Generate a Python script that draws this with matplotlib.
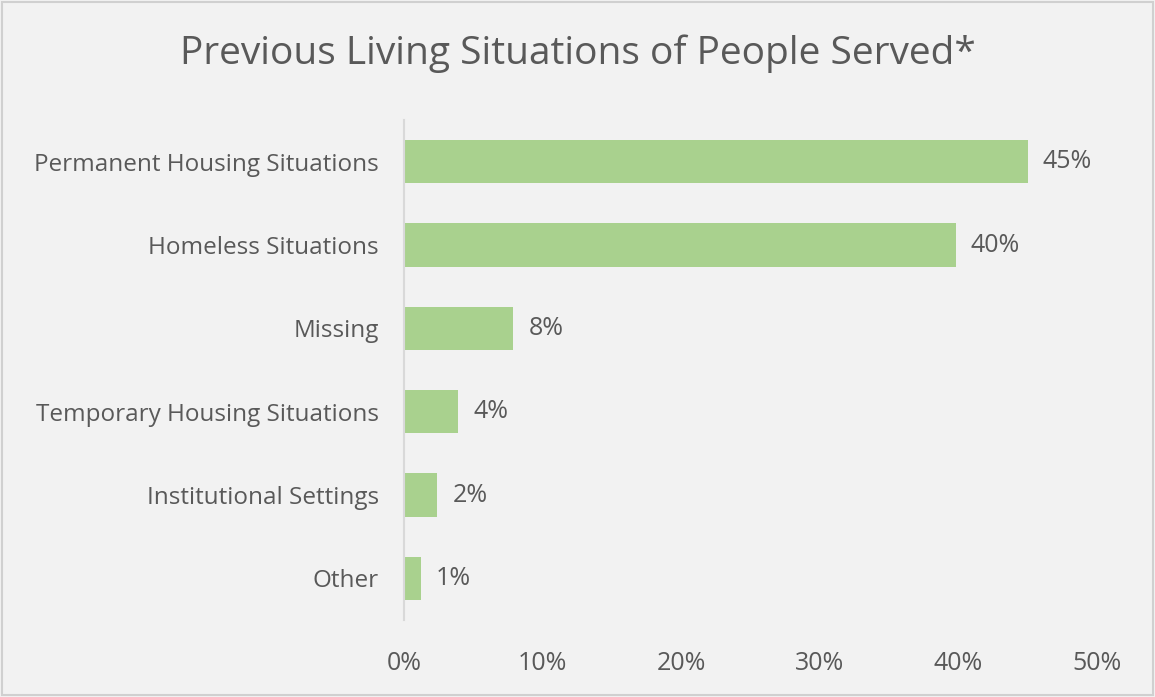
import matplotlib.pyplot as plt
from matplotlib.patches import Rectangle

# share of people served by previous living situation (%)
categories = [
    "Permanent Housing Situations",
    "Homeless Situations",
    "Missing",
    "Temporary Housing Situations",
    "Institutional Settings",
    "Other",
]
shares = [45.0, 39.8, 7.9, 3.9, 2.4, 1.2]
x_ticks = [0, 10, 20, 30, 40, 50]

TEXT = "#595959"
BAR = "#a9d18e"
BG = "#f2f2f2"

plt.rcParams["font.family"] = ["Open Sans", "DejaVu Sans"]

fig = plt.figure(figsize=(11.55, 6.97), dpi=100, facecolor=BG)
fig.patches.append(Rectangle((0.002, 0.003), 0.996, 0.994, transform=fig.transFigure,
                             fill=False, edgecolor="#d0d0d0", linewidth=1.5))

ax = fig.add_axes([404 / 1155, 1 - 620 / 697, 693 / 1155, 500 / 697])
ax.set_facecolor(BG)

y = range(len(categories))
bars = ax.barh(y, shares, height=0.52, color=BAR)
ax.set_ylim(len(categories) - 0.5, -0.5)
ax.set_xlim(0, 50)

for bar, v in zip(bars, shares):
    ax.annotate(f"{v:.0f}%", (bar.get_width(), bar.get_y() + bar.get_height() / 2),
                xytext=(11, 0), textcoords="offset points", va="center", ha="left",
                fontsize=18, color=TEXT)

ax.set_yticks(list(y), categories)
ax.set_xticks(x_ticks, [f"{t}%" for t in x_ticks])
ax.tick_params(length=0, colors=TEXT)
ax.tick_params(axis="y", pad=18, labelsize=17.5)
ax.tick_params(axis="x", pad=22, labelsize=18)

for side in ["top", "right", "bottom"]:
    ax.spines[side].set_visible(False)
ax.spines["left"].set_color("#d9d9d9")
ax.spines["left"].set_linewidth(1.5)

fig.text(0.5, 1 - 54 / 697, "Previous Living Situations of People Served*",
         ha="center", va="center", fontsize=28, color=TEXT)

fig.savefig("out.png", facecolor=BG)
